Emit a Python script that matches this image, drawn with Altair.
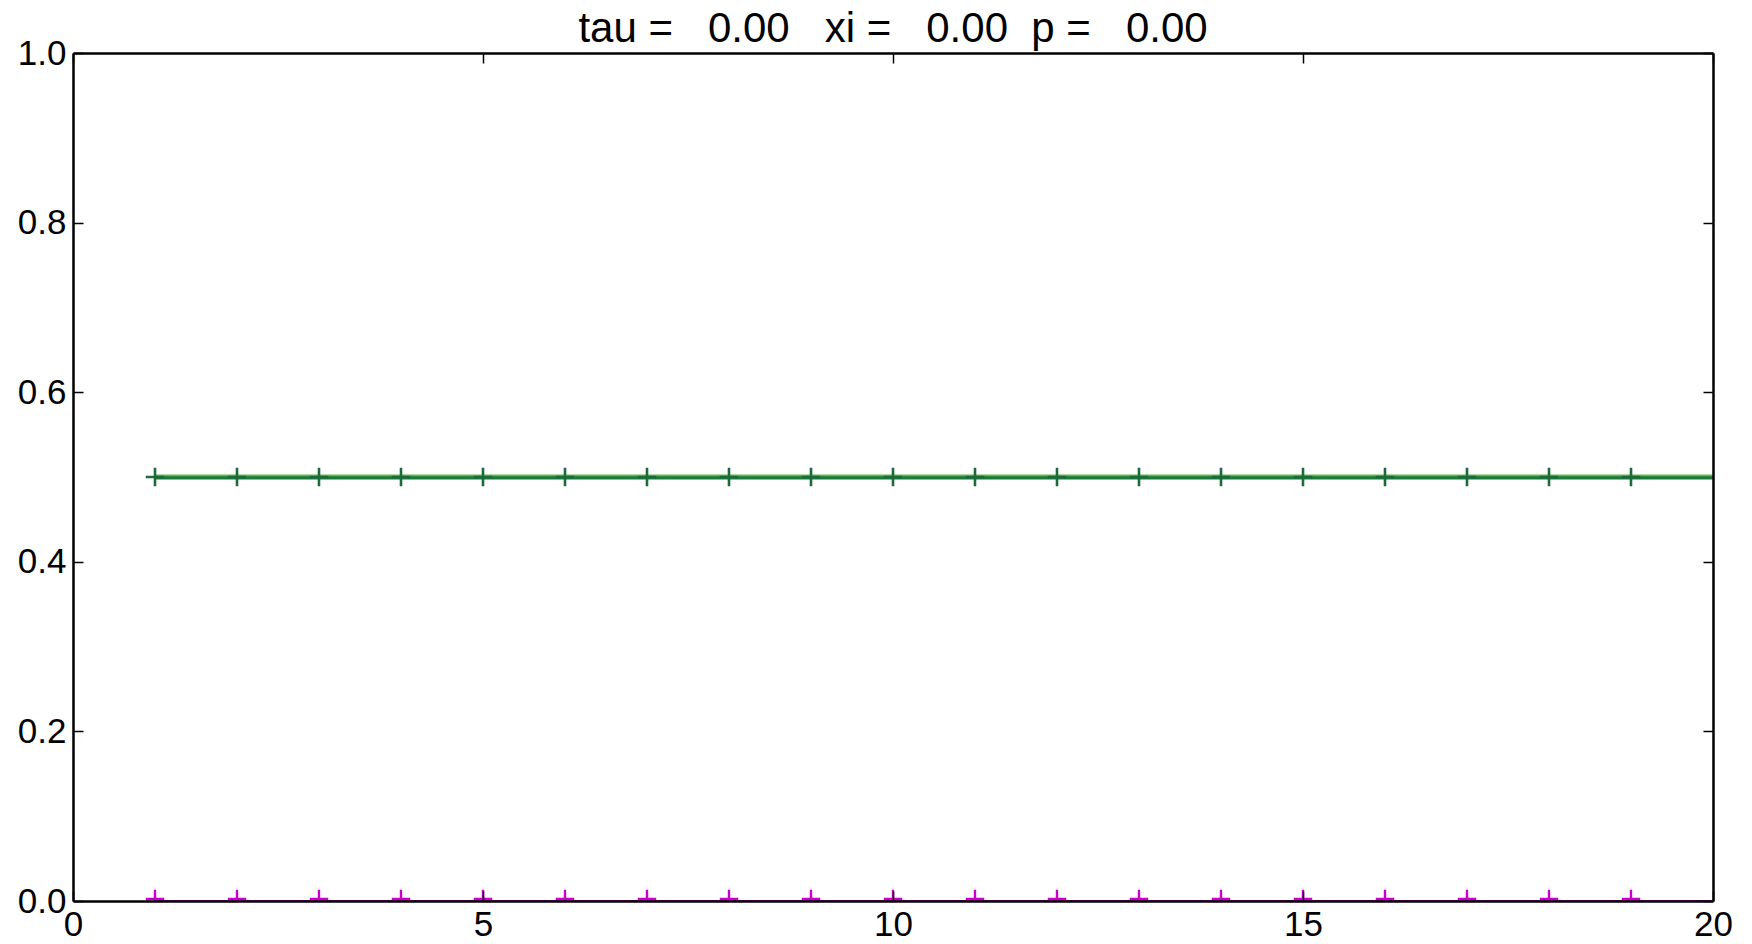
import altair as alt
import pandas as pd

# ---- data ----
steps = [1, 2, 3, 4, 5, 6, 7, 8, 9, 10, 11, 12, 13, 14, 15, 16, 17, 18, 19, 20]
green_vals = [0.5, 0.5, 0.5, 0.5, 0.5, 0.5, 0.5, 0.5, 0.5, 0.5,
              0.5, 0.5, 0.5, 0.5, 0.5, 0.5, 0.5, 0.5, 0.5, 0.5]
magenta_vals = [0.0, 0.0, 0.0, 0.0, 0.0, 0.0, 0.0, 0.0, 0.0, 0.0,
                0.0, 0.0, 0.0, 0.0, 0.0, 0.0, 0.0, 0.0, 0.0, 0.0]
marker_steps = [1, 2, 3, 4, 5, 6, 7, 8, 9, 10, 11, 12, 13, 14, 15, 16, 17, 18, 19]
x_ticks = [0, 5, 10, 15, 20]
y_ticks = [0.0, 0.2, 0.4, 0.6, 0.8, 1.0]
title_text = "tau =\u00a0\u00a0\u00a00.00\u00a0\u00a0\u00a0xi =\u00a0\u00a0\u00a00.00\u00a0\u00a0p =\u00a0\u00a0\u00a00.00"

W, H = 1640, 848
FONT = "Liberation Sans"

line_df = pd.DataFrame({"step": steps, "green": green_vals, "magenta": magenta_vals})
mk_df = line_df[line_df["step"].isin(marker_steps)]

xs = alt.Scale(domain=[0, 20], nice=False, zero=False)
ys = alt.Scale(domain=[0, 1], nice=False, zero=False)

def tick_axis(orient, offset, values):
    return alt.Axis(orient=orient, offset=offset, values=values, labels=False,
                    ticks=True, tickSize=10, tickWidth=1.5, tickColor="black",
                    domain=True, domainWidth=2.5, domainColor="black",
                    grid=False, title=None, zindex=1)

x_lab = alt.Axis(orient="bottom", values=x_ticks, format="d", ticks=False, domain=False,
                 grid=False, title=None, labelFontSize=35, labelFont=FONT,
                 labelColor="black", labelPadding=6, labelFlush=False, zindex=1)
y_lab = alt.Axis(orient="left", values=y_ticks, format=".1f", ticks=False, domain=False,
                 grid=False, title=None, labelFontSize=35, labelFont=FONT,
                 labelColor="black", labelPadding=7, labelFlush=False, zindex=1)

plus = "M-1,0H1M0,-1V1"

mag_line = alt.Chart(line_df).mark_line(color="#cc00cc", strokeWidth=2, clip=True).encode(
    x=alt.X("step:Q", scale=xs, axis=None),
    y=alt.Y("magenta:Q", scale=ys, axis=None),
)
green_light = alt.Chart(line_df).mark_line(color="#63b84f", strokeWidth=3, yOffset=-1, clip=True).encode(
    x=alt.X("step:Q", scale=xs, axis=x_lab),
    y=alt.Y("green:Q", scale=ys, axis=y_lab),
)
green_dark = alt.Chart(line_df).mark_line(color="#1d7a3d", strokeWidth=3.2, yOffset=0.8, clip=True).encode(
    x=alt.X("step:Q", scale=xs, axis=None),
    y=alt.Y("green:Q", scale=ys, axis=None),
)
green_pts = alt.Chart(mk_df).mark_point(shape=plus, size=340, strokeWidth=2.6, color="#1b6a3a",
                                        filled=False, opacity=1, clip=True).encode(
    x=alt.X("step:Q", scale=xs, axis=tick_axis("top", -H, x_ticks)),
    y=alt.Y("green:Q", scale=ys, axis=tick_axis("right", -W, y_ticks)),
)
mag_pts = alt.Chart(mk_df).mark_point(shape=plus, size=340, strokeWidth=2.4, color="#cc00cc",
                                      filled=False, opacity=1, clip=True, yOffset=-2).encode(
    x=alt.X("step:Q", scale=xs, axis=tick_axis("bottom", -H, x_ticks)),
    y=alt.Y("magenta:Q", scale=ys, axis=tick_axis("left", -W, y_ticks)),
)

chart = alt.layer(mag_line, green_light, green_dark, green_pts, mag_pts).resolve_axis(
    x="independent", y="independent"
).properties(
    width=W, height=H,
    title=alt.TitleParams(text=title_text, anchor="middle", frame="group", font=FONT,
                          fontSize=42, fontWeight="normal", color="black",
                          baseline="alphabetic", offset=6, dy=54),
    autosize=alt.AutoSizeParams(type="none"),
    padding={"left": 73, "top": 53, "right": 39, "bottom": 43},
).configure_view(stroke=None).configure(background="white")

chart.save("out.html", embed_options={"renderer": "svg", "actions": False})
